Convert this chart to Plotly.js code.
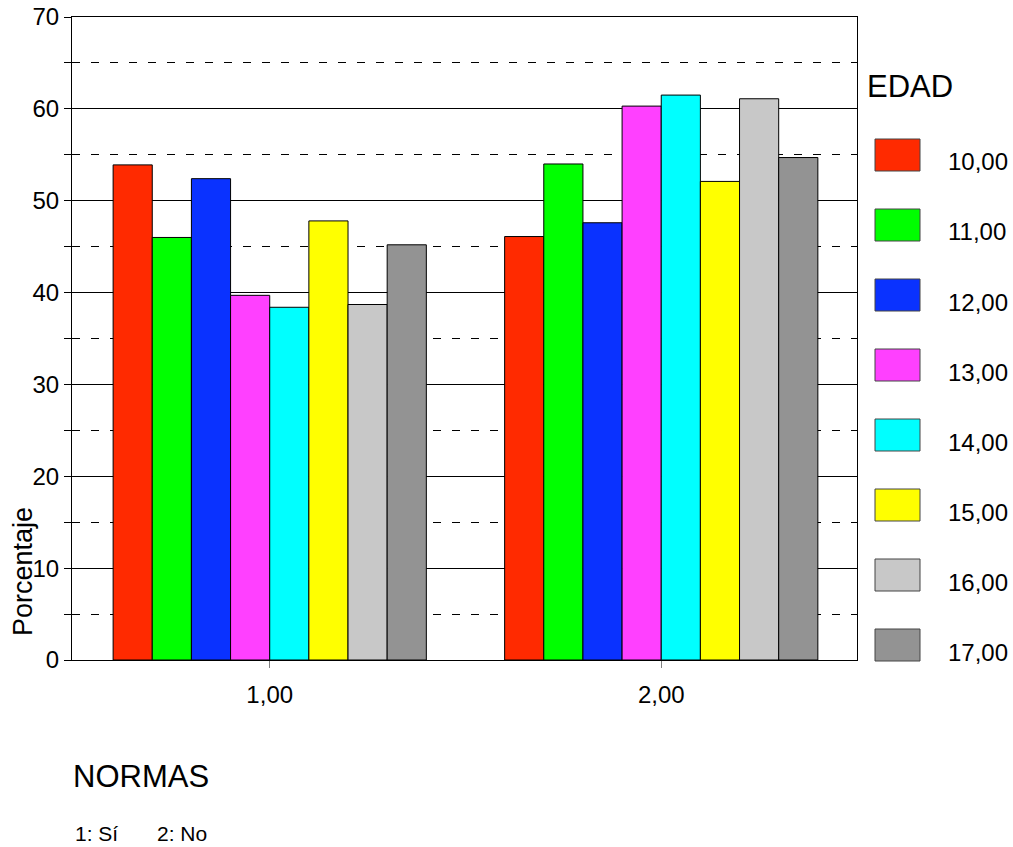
<!DOCTYPE html>
<html>
<head>
<meta charset="utf-8">
<script src="https://cdn.plot.ly/plotly-3.0.1.min.js"></script>
<style>html,body{margin:0;padding:0;background:#fff;}#chart{width:1013px;height:847px;}</style>
</head>
<body>
<div id="chart"></div>
<script>
// Categories (NORMAS) and tick labels
const categories = [1, 2];
const categoryLabels = ["1,00", "2,00"];
// Series (EDAD)
const seriesNames = ["10,00", "11,00", "12,00", "13,00", "14,00", "15,00", "16,00", "17,00"];
const seriesColors = ["#FF2A00", "#00FF00", "#0A32FF", "#FF40FF", "#00FFFF", "#FFFF00", "#C8C8C8", "#939393"];
// Percentages per series: [NORMAS=1, NORMAS=2]
const edad10 = [53.9, 46.1];
const edad11 = [46.0, 54.0];
const edad12 = [52.4, 47.6];
const edad13 = [39.7, 60.3];
const edad14 = [38.4, 61.5];
const edad15 = [47.8, 52.1];
const edad16 = [38.7, 61.1];
const edad17 = [45.2, 54.7];
const seriesValues = [edad10, edad11, edad12, edad13, edad14, edad15, edad16, edad17];

const FONT = "Liberation Sans, Arial, sans-serif";

const traces = seriesNames.map((name, i) => ({
  type: "bar",
  name: name,
  x: categories,
  y: seriesValues[i],
  marker: { color: seriesColors[i], line: { color: "#000", width: 1 } },
  showlegend: false,
  hoverinfo: "y"
}));

// Plot area in pixels (for converting to paper coords)
const L = 72, R = 857, T = 17, B = 660;
const W = R - L, H = B - T;
const px = v => (v - L) / W;
const py = v => (B - v) / H;

const shapes = [];
const annotations = [];

// Manual legend built from the series arrays
annotations.push({
  text: "EDAD", xref: "paper", yref: "paper", x: px(865), y: py(86),
  xanchor: "left", yanchor: "middle", showarrow: false,
  font: { family: FONT, size: 31, color: "#000" }
});
seriesNames.forEach((name, i) => {
  const top = 139 + 70 * i;
  shapes.push({
    type: "rect", xref: "paper", yref: "paper",
    x0: px(875), x1: px(920), y0: py(top + 32), y1: py(top),
    fillcolor: seriesColors[i], line: { color: "#444", width: 1 }
  });
  annotations.push({
    text: name, xref: "paper", yref: "paper", x: px(946), y: py(top + 23),
    xanchor: "left", yanchor: "middle", showarrow: false,
    font: { family: FONT, size: 24, color: "#000" }
  });
});

// Axis titles / notes
annotations.push({
  text: "Porcentaje", xref: "paper", yref: "paper", x: px(23), y: py(572),
  xanchor: "center", yanchor: "middle", textangle: -90, showarrow: false,
  font: { family: FONT, size: 27, color: "#000" }
});
annotations.push({
  text: "NORMAS", xref: "paper", yref: "paper", x: px(71), y: py(776),
  xanchor: "left", yanchor: "middle", showarrow: false,
  font: { family: FONT, size: 31, color: "#000" }
});
annotations.push({
  text: "1: Sí", xref: "paper", yref: "paper", x: px(73), y: py(833),
  xanchor: "left", yanchor: "middle", showarrow: false,
  font: { family: FONT, size: 21, color: "#000" }
});
annotations.push({
  text: "2: No", xref: "paper", yref: "paper", x: px(155), y: py(833),
  xanchor: "left", yanchor: "middle", showarrow: false,
  font: { family: FONT, size: 21, color: "#000" }
});

const layout = {
  width: 1013, height: 847,
  margin: { l: L, r: 1013 - R, t: T, b: 847 - B, pad: 0 },
  paper_bgcolor: "#fff", plot_bgcolor: "#fff",
  barmode: "group", bargap: 0.2, bargroupgap: 0,
  font: { family: FONT, color: "#000" },
  xaxis: {
    range: [0.495, 2.5], tickvals: categories, ticktext: categoryLabels,
    ticks: "outside", ticklen: 7, tickcolor: "#808080", tickwidth: 1,
    showgrid: false, zeroline: false,
    showline: true, mirror: true, linecolor: "#000", linewidth: 1,
    tickfont: { family: FONT, size: 24, color: "#000" },
    ticklabelstandoff: 6
  },
  yaxis: {
    range: [0, 70], dtick: 10, tick0: 0,
    ticks: "outside", ticklen: 7, tickcolor: "#000", tickwidth: 1,
    showgrid: true, gridcolor: "#000", gridwidth: 1,
    zeroline: false,
    showline: true, mirror: true, linecolor: "#000", linewidth: 1,
    tickfont: { family: FONT, size: 24, color: "#000" },
    minor: {
      dtick: 5, tick0: 0, showgrid: true, gridcolor: "#000", gridwidth: 1,
      griddash: "8px,11px", ticks: "outside", ticklen: 7, tickcolor: "#000"
    }
  },
  shapes: shapes,
  annotations: annotations
};

Plotly.newPlot("chart", traces, layout, { displayModeBar: false, staticPlot: true });
</script>
</body>
</html>
